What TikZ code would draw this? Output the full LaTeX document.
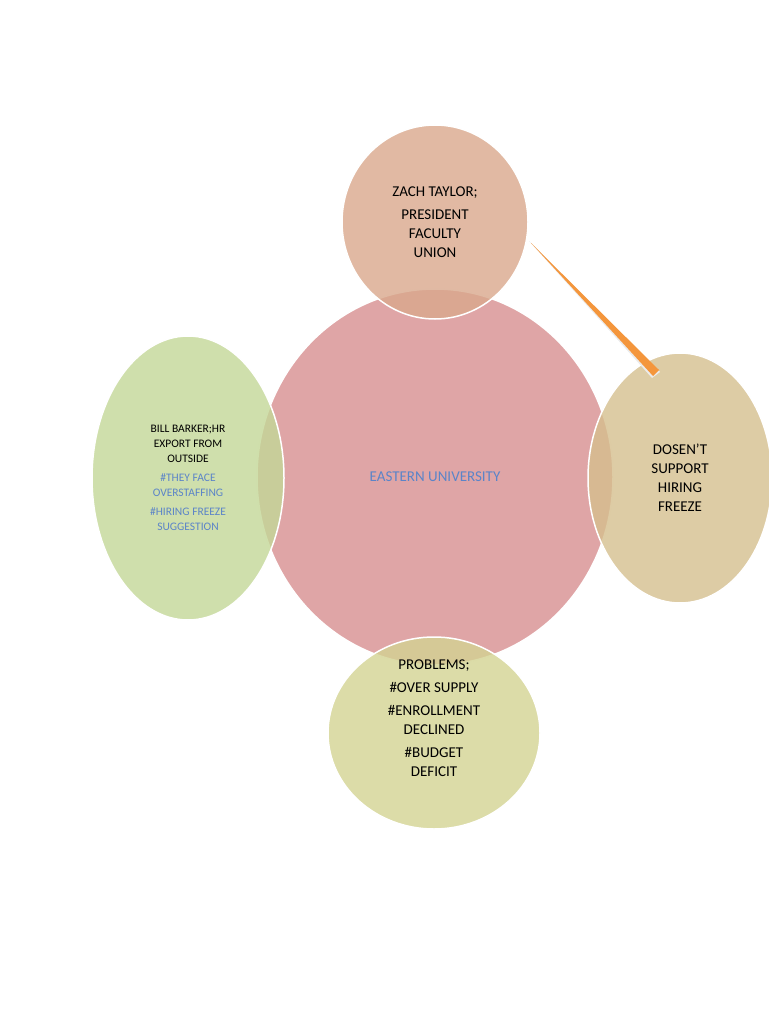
\documentclass[tikz,border=0pt]{standalone}
\usepackage{fontspec}
\setmainfont{Carlito}
\usetikzlibrary{calc}
\begin{document}
\begin{tikzpicture}[x=1pt,y=-1pt,
  bub/.style={draw=white,line width=1.5pt,fill opacity=0.8},
  txt/.style={align=center,text=black,font=\fontsize{15}{19}\selectfont},
  stxt/.style={align=center,text=black,font=\fontsize{11.5}{15}\selectfont}]
\useasboundingbox (0,0) rectangle (768,1024);
\definecolor{cc}{HTML}{DFA5A6}
\definecolor{ct}{HTML}{D9A88C}
\definecolor{cr}{HTML}{D5BF8E}
\definecolor{cl}{HTML}{C3D797}
\definecolor{cb}{HTML}{D3D392}
\definecolor{bl}{HTML}{5B84C8}
\definecolor{ar}{HTML}{F4963C}
\fill[cc, draw=white, line width=1.5pt] (435,477) ellipse [x radius=178, y radius=188];
\fill[ct,bub] (435,222) ellipse [x radius=93, y radius=97];
\fill[cr,bub] (680,478) ellipse [x radius=92, y radius=125];
\fill[cl,bub] (188,478) ellipse [x radius=96, y radius=142];
\fill[cb,bub] (434,733) ellipse [x radius=106, y radius=96];
\node[txt,text=bl] (c) at (435,477) {EASTERN UNIVERSITY};
\node[txt] (t) at (435,222) {ZACH TAYLOR;\\[4pt]PRESIDENT\\FACULTY\\UNION};
\node[txt] (r) at (680,478) {DOSEN'T\\SUPPORT\\HIRING\\FREEZE};
\node[stxt] (l) at (188,478) {BILL BARKER;HR\\EXPORT FROM\\OUTSIDE\\[4pt]\textcolor{bl}{\#THEY FACE}\\\textcolor{bl}{OVERSTAFFING}\\[4pt]\textcolor{bl}{\#HIRING FREEZE}\\\textcolor{bl}{SUGGESTION}};
\node[txt] (b) at (434,718) {PROBLEMS;\\[4pt]\#OVER SUPPLY\\[4pt]\#ENROLLMENT\\DECLINED\\[4pt]\#BUDGET\\DEFICIT};
\coordinate (a1) at (531,243);
\coordinate (a2) at (656,373);
\fill[white!92!black] (529,241) -- (660,372) -- (652,378) -- cycle;
\fill[ar] (a1) -- ($(a2)+(3,-3)$) -- ($(a2)+(-3,3)$) -- cycle;
\end{tikzpicture}
\end{document}
